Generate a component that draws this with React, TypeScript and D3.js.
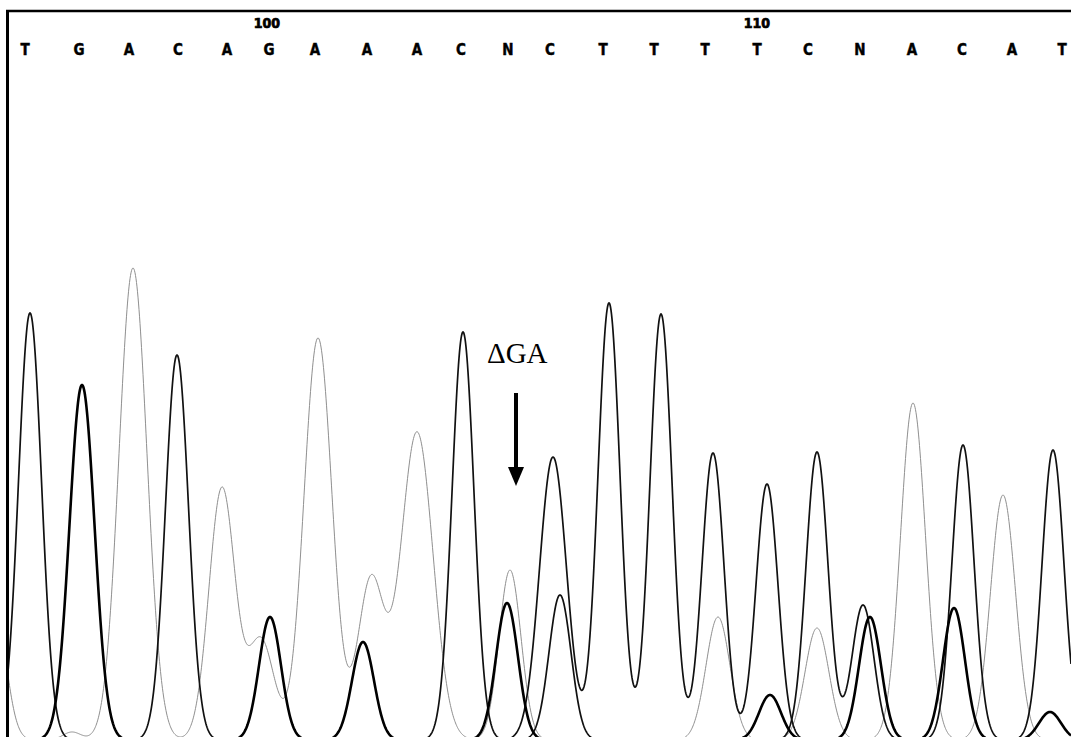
import React, { useMemo } from "react";
import * as d3 from "d3";

// Base calls along the top of the trace
const bases = ["T", "G", "A", "C", "A", "G", "A", "A", "A", "C", "N", "C", "T", "T", "T", "T", "C", "N", "A", "C", "A", "T"];
const baseScans = [25, 79, 129, 178, 227, 269, 315, 367, 417, 461, 508, 550, 603, 654, 705, 757, 808, 860, 912, 962, 1012, 1062];
const positionLabels = ["100", "110"];
const positionScans = [267, 757];

// Peaks per channel: [scan, intensity, peak width]
const peaksA: [number, number, number][] = [
  [-5, 260, 11], [72, 16, 9], [133, 944, 14], [222, 504, 13], [261, 200, 13],
  [318, 804, 14], [371, 320, 13], [417, 616, 16], [510, 340, 11],
  [718, 246, 12], [817, 224, 12], [913, 674, 12.5], [1003, 490, 12.5],
];
const peaksC: [number, number, number][] = [
  [177, 770, 11.5], [463, 816, 11], [560, 290, 11], [817, 576, 11], [863, 270, 11], [963, 590, 11],
];
const peaksG: [number, number, number][] = [
  [82, 710, 12.5], [270, 246, 11], [363, 196, 11], [507, 274, 11], [770, 90, 11],
  [870, 246, 11], [954, 264, 11], [1050, 56, 11],
];
const peaksT: [number, number, number][] = [
  [30, 854, 11.5], [553, 566, 13.5], [609, 874, 11], [661, 852, 11], [713, 574, 11], [767, 512, 11], [1053, 580, 11],
];

const W = 1071;
const H = 737;

function trace(peaks: [number, number, number][], x: d3.ScaleLinear<number, number>) {
  const [s0, s1] = x.domain();
  const pts: [number, number][] = [];
  for (let s = s0; s <= s1; s += 0.5) {
    let v = 0;
    for (const [c, h, w] of peaks) {
      const d = s - c;
      v += h * Math.exp(-(d * d) / (2 * w * w));
    }
    pts.push([s, v]);
  }
  return pts;
}

const labelFont = "'DejaVu Sans Condensed', 'Liberation Sans', sans-serif";

export default function App() {
  const x = d3.scaleLinear().domain([8, 1071]).range([8, 1071]);
  const y = d3.scaleLinear().domain([0, 1000]).range([740, 240]);
  const line = d3
    .line<[number, number]>()
    .x((d) => x(d[0]))
    .y((d) => y(d[1]));

  const channels = useMemo(
    () => [
      { key: "A", peaks: peaksA, color: "#8f8f8f", width: 1 },
      { key: "C", peaks: peaksC, color: "#111", width: 1.7 },
      { key: "T", peaks: peaksT, color: "#111", width: 1.7 },
      { key: "G", peaks: peaksG, color: "#000", width: 2.6 },
    ],
    []
  );

  return (
    <svg
      width={W}
      height={H}
      style={{ position: "absolute", left: 0, top: 0, background: "#fff", display: "block" }}
    >
      <defs>
        <clipPath id="plot">
          <rect x={9} y={12} width={W - 9} height={H - 12} />
        </clipPath>
      </defs>
      <rect x={0} y={0} width={W} height={H} fill="#fff" />
      <g clipPath="url(#plot)">
        {channels.map((c) => (
          <path
            key={c.key}
            d={line(trace(c.peaks, x)) || ""}
            fill="none"
            stroke={c.color}
            strokeWidth={c.width}
            strokeLinejoin="round"
          />
        ))}
      </g>
      {/* frame */}
      <line x1={6} x2={W} y1={11} y2={11} stroke="#000" strokeWidth={2.5} />
      <line x1={7.5} x2={7.5} y1={10} y2={H} stroke="#000" strokeWidth={3} />
      {/* position numbers */}
      {positionLabels.map((t, i) => (
        <text
          key={t}
          x={x(positionScans[i])}
          y={28}
          textAnchor="middle"
          fontFamily={labelFont}
          fontWeight="bold"
          fontSize={14}
          stroke="#000"
          strokeWidth={0.7}
          fill="#000"
        >
          {t}
        </text>
      ))}
      {/* base calls */}
      {bases.map((b, i) => (
        <text
          key={i}
          x={x(baseScans[i])}
          y={55}
          textAnchor="middle"
          fontFamily={labelFont}
          fontWeight="bold"
          fontSize={15}
          stroke="#000"
          strokeWidth={0.4}
          fill="#000"
        >
          {b}
        </text>
      ))}
      {/* annotation */}
      <text x={487} y={363} fontFamily="'Liberation Serif', 'Times New Roman', serif" fontSize={29} fill="#000">
        ΔGA
      </text>
      <line x1={516} x2={516} y1={393} y2={470} stroke="#000" strokeWidth={4} />
      <polygon points="508,467 524,467 516,486" fill="#000" />
    </svg>
  );
}
